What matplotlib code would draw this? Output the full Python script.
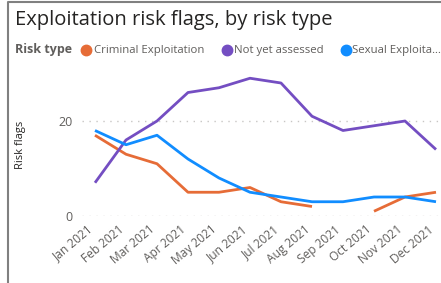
import numpy as np
import matplotlib
matplotlib.use("Agg")
import matplotlib.pyplot as plt
from matplotlib.lines import Line2D

months = ["Jan 2021", "Feb 2021", "Mar 2021", "Apr 2021", "May 2021", "Jun 2021",
          "Jul 2021", "Aug 2021", "Sep 2021", "Oct 2021", "Nov 2021", "Dec 2021"]
criminal = [17, 13, 11, 5, 5, 6, 3, 2, np.nan, 1, 4, 5]
not_assessed = [7, 16, 20, 26, 27, 29, 28, 21, 18, 19, 20, 14]
sexual = [18, 15, 17, 12, 8, 5, 4, 3, 3, 4, 4, 3]

c_orange = "#E66C37"
c_purple = "#744EC2"
c_blue = "#118DFF"
grey = "#605E5C"

plt.rcParams['font.family'] = ['Open Sans', 'DejaVu Sans']

fig = plt.figure(figsize=(4.41, 2.83), dpi=100)
ax = fig.add_axes([82/441, (283-216)/283, 359/441, 31*4.75/283])

x = np.arange(len(months))
ax.plot(x, criminal, color=c_orange, lw=2.0, clip_on=False, solid_capstyle='butt')
ax.plot(x, not_assessed, color=c_purple, lw=2.0, clip_on=False, solid_capstyle='butt')
ax.plot(x, sexual, color=c_blue, lw=2.0, clip_on=False, solid_capstyle='butt')

ax.set_xlim(-13/31, 11 + 5/31)
ax.set_ylim(0, 31)
ax.set_yticks([0, 20])
for yv in [0, 20]:
    ax.axhline(yv, color="#C8C6C4", lw=1, ls=(0, (1, 4)), zorder=0)
# tick marks are hidden, so the labels are anchored a little left of each month
ax.set_xticks(x - 0.26)
ax.set_xticklabels(months, rotation=40, ha='right', rotation_mode='anchor',
                   fontsize=8.6, color=grey)
ax.tick_params(axis='y', labelsize=9, labelcolor=grey, length=0, pad=7)
ax.tick_params(axis='x', length=0, pad=5)
for s in ax.spines.values():
    s.set_visible(False)
ax.set_ylabel("Risk flags", fontsize=8, color="#252423")
ax.yaxis.set_label_coords((26 - 82)/359, 0.48)

fig.text(15/441, 1 - 25/283, "Exploitation risk flags, by risk type", fontsize=14.5,
         color="#252423", va='baseline', ha='left')

fig.text(15/441, 1 - 50/283, "Risk type", fontsize=9, fontweight='bold',
         color=grey, va='center', ha='left')
legend_items = [("Criminal Exploitation", c_orange, 86, 94),
                ("Not yet assessed", c_purple, 227, 234),
                ("Sexual Exploita\u2026", c_blue, 346, 352)]
for label, col, cx, tx in legend_items:
    fig.add_artist(Line2D([cx/441], [1 - 50/283], marker='o', ms=7.5, color=col,
                          transform=fig.transFigure, lw=0))
    fig.text(tx/441, 1 - 50/283, label, fontsize=8.2, color=grey,
             va='center', ha='left')

fig.add_artist(Line2D([8/441, 8/441, 1], [0, 1 - 2/283, 1 - 2/283],
                      color="#808080", lw=1.5, transform=fig.transFigure))

fig.savefig("out.png", dpi=100)
